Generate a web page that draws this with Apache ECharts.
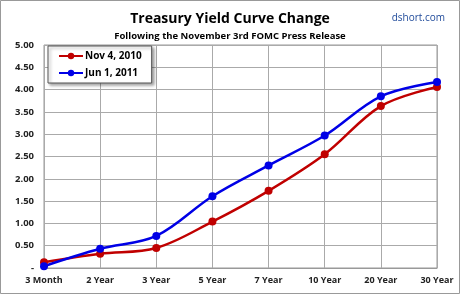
<!DOCTYPE html>
<html>
<head>
<meta charset="utf-8">
<script src="https://cdn.jsdelivr.net/npm/echarts@6/dist/echarts.min.js"></script>
<style>
  html, body { margin: 0; padding: 0; background: #fff; }
  #chart { width: 460px; height: 294px; }
</style>
</head>
<body>
<div id="chart"></div>
<script>
// Maturities on the x axis
const maturities = ['3 Month', '2 Year', '3 Year', '5 Year', '7 Year', '10 Year', '20 Year', '30 Year'];
// Yields (percent)
const nov2010 = [0.13, 0.32, 0.45, 1.04, 1.73, 2.55, 3.63, 4.06];
const jun2011 = [0.04, 0.43, 0.72, 1.61, 2.30, 2.97, 3.85, 4.17];

const chart = echarts.init(document.getElementById('chart'));
const font = 'Open Sans';

chart.setOption({
    animation: false,
    backgroundColor: '#fff',
    title: [
        {
            text: 'Treasury Yield Curve Change',
            left: 'center', top: 7,
            textStyle: { fontFamily: font, fontWeight: 'bold', fontSize: 14, color: '#000' }
        },
        {
            text: 'Following the November 3rd FOMC Press Release',
            left: 'center', top: 26,
            textStyle: { fontFamily: font, fontWeight: 'bold', fontSize: 9.5, color: '#000' }
        },
        {
            text: 'dshort.com',
            right: 10, top: 8,
            textStyle: { fontFamily: font, fontWeight: 'normal', fontSize: 10, color: '#1f4a9a' }
        }
    ],
    legend: {
        orient: 'vertical',
        left: 48, top: 46,
        itemWidth: 24, itemHeight: 8, itemGap: 7,
        padding: [5, 10, 5, 10],
        backgroundColor: '#fff',
        borderColor: '#555',
        borderWidth: 1,
        shadowColor: 'rgba(0,0,0,0.35)',
        shadowBlur: 3, shadowOffsetX: 2, shadowOffsetY: 2,
        textStyle: { fontFamily: font, fontWeight: 'bold', fontSize: 10, color: '#000', padding: [0, 0, 0, -3] },
        data: ['Nov 4, 2010', 'Jun 1, 2011']
    },
    grid: { left: 44, right: 23, top: 45, bottom: 26, show: true, borderColor: '#999', borderWidth: 1 },
    xAxis: {
        type: 'category',
        data: maturities,
        boundaryGap: false,
        axisLine: { lineStyle: { color: '#999' } },
        axisTick: { show: false },
        splitLine: { show: true, lineStyle: { color: '#aaa' } },
        axisLabel: { fontFamily: font, fontWeight: 'bold', fontSize: 9, color: '#222', margin: 8 }
    },
    yAxis: {
        type: 'value',
        min: 0, max: 5, interval: 0.5,
        axisLine: { show: false },
        axisTick: { show: false },
        splitLine: { lineStyle: { color: '#aaa' } },
        axisLabel: {
            fontFamily: font, fontWeight: 'bold', fontSize: 9.5, color: '#222', margin: 10,
            formatter: v => v === 0 ? '-' : v.toFixed(2)
        }
    },
    series: [
        {
            name: 'Nov 4, 2010', type: 'line', data: nov2010, smooth: 0.35,
            symbol: 'circle', symbolSize: 8,
            itemStyle: { color: '#c00000' },
            lineStyle: { color: '#c00000', width: 2.5 }
        },
        {
            name: 'Jun 1, 2011', type: 'line', data: jun2011, smooth: 0.35,
            symbol: 'circle', symbolSize: 8,
            itemStyle: { color: '#0000e6' },
            lineStyle: { color: '#0000e6', width: 2.5 }
        }
    ],
    graphic: [
        {
            type: 'rect', silent: true,
            shape: { x: 0.5, y: 0.5, width: 459, height: 293 },
            style: { fill: 'none', stroke: '#999', lineWidth: 1 }
        }
    ]
});
</script>
</body>
</html>
